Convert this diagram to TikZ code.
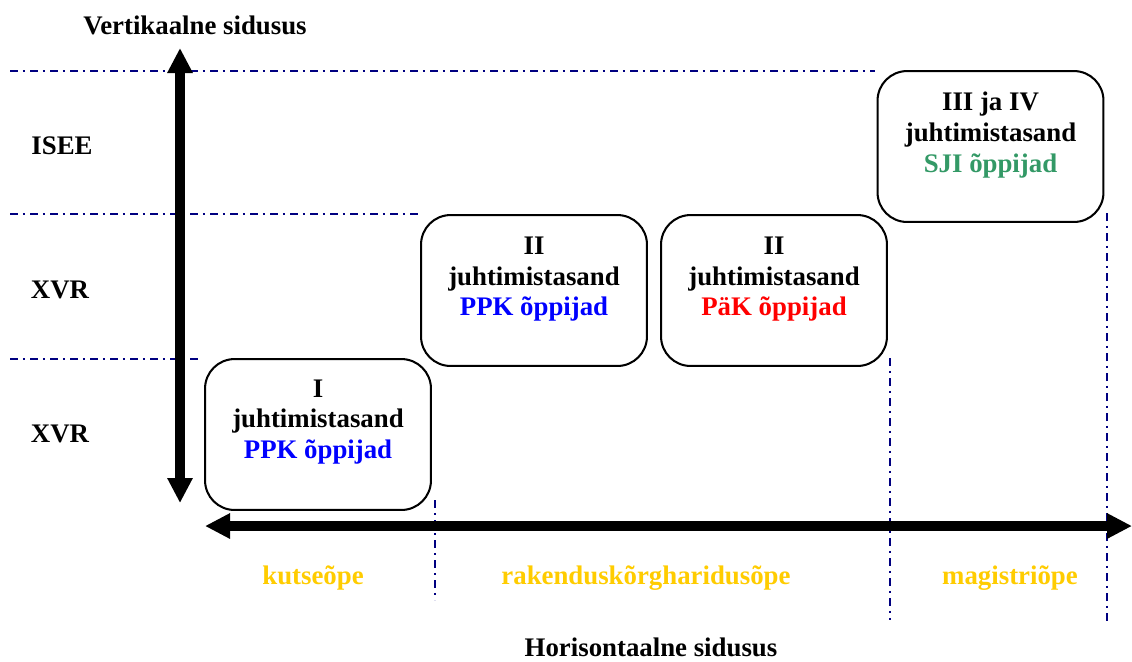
\documentclass[tikz,border=0pt]{standalone}
\usepackage{fontspec}
\setmainfont{Liberation Serif}
\usetikzlibrary{arrows.meta,positioning}
\definecolor{guidenavy}{HTML}{000080}
\definecolor{ppkblue}{HTML}{0000FF}
\definecolor{pakred}{HTML}{FF0000}
\definecolor{sjigreen}{HTML}{339966}
\definecolor{oppeyellow}{HTML}{FFCC00}

\tikzset{
	level/.style={draw, rounded corners=13pt, line width=0.9pt, minimum width=99.4pt, minimum height=66.4pt},
	leveltext/.style={align=center, inner sep=0pt},
	axis/.style={line width=4pt, {Triangle[width=10.5pt,length=11pt]}-{Triangle[width=10.5pt,length=11pt]}},
	guide/.style={guidenavy, line width=0.9pt, dash pattern=on 3.5pt off 2.2pt on 0.9pt off 2.2pt},
	oppe/.style={text=oppeyellow},
}

\begin{document}
\begin{tikzpicture}[x=0.44pt, y=-0.44pt, font=\fontsize{11.8}{13.6}\selectfont\bfseries]
	\useasboundingbox (0,0) rectangle (1132,661);
	% guide lines
	\draw[guide] (10,71) -- (875,71);
	\draw[guide] (10,214) -- (420,214);
	\draw[guide] (10,359) -- (200,359);
	\draw[guide] (435,500) -- (435,600);
	\draw[guide] (890,358) -- (890,620);
	\draw[guide] (1107,213) -- (1107,622);
	% axes
	\coordinate (vbot) at (180,503);
	\coordinate (vtop) at (180,48);
	\coordinate (hleft) at (205,526);
	\coordinate (hright) at (1132,526);
	\draw[axis] (vbot) -- (vtop);
	\draw[axis] (hleft) -- (hright);
	\node (vlbl) at (195,25) {Vertikaalne sidusus};
	\node (hlbl) at (651,647) {Horisontaalne sidusus};
	% levels
	\node (isee) at (62,146) {ISEE};
	\node (xvr2) at (60,290) {XVR};
	\node (xvr1) at (60,434) {XVR};
	% boxes
	\node[level] (b1) at (318,434.5) {};
	\node[level] (b2) at (534,290.5) {};
	\node[level] (b3) at (774,290.5) {};
	\node[level] (b4) at (990.5,146.5) {};
	\node[leveltext] (t1) at ([yshift=5.5pt]b1.center) {I\\juhtimistasand\\\textcolor{ppkblue}{PPK õppijad}};
	\node[leveltext] (t2) at ([yshift=5pt]b2.center) {II\\juhtimistasand\\\textcolor{ppkblue}{PPK õppijad}};
	\node[leveltext] (t3) at ([yshift=5pt]b3.center) {II\\juhtimistasand\\\textcolor{pakred}{PäK õppijad}};
	\node[leveltext] (t4) at ([yshift=5pt]b4.center) {III ja IV\\juhtimistasand\\\textcolor{sjigreen}{SJI õppijad}};
	% study types
	\node[oppe] (kutse) at (313,578) {kutseõpe};
	\node[oppe] (rak) at (646,578) {rakenduskõrgharidusõpe};
	\node[oppe] (mag) at (1010,578) {magistriõpe};
\end{tikzpicture}
\end{document}
